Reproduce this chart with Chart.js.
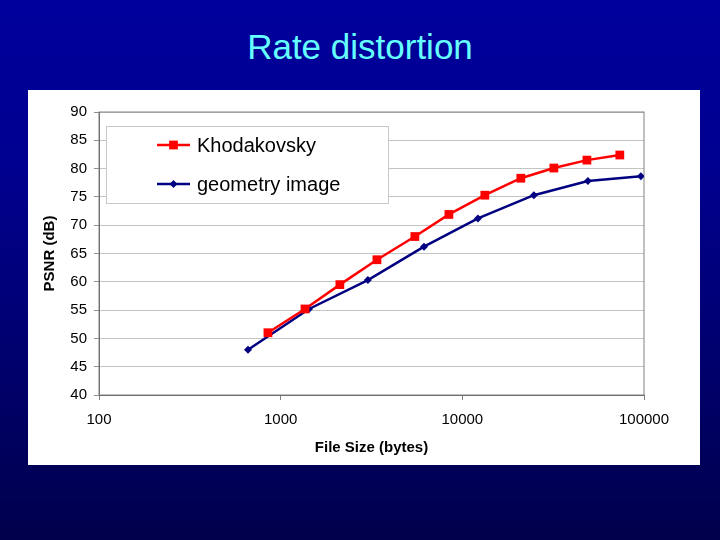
<!DOCTYPE html>
<html lang="en">
<head>
  <meta charset="UTF-8">
  <title>Rate distortion</title>
  <script src="https://cdn.jsdelivr.net/npm/chart.js"></script>
  <style>
    html, body {
      margin: 0;
      width: 720px;
      height: 540px;
      overflow: hidden;
    }

    body {
      position: relative;
      font-family: "Liberation Sans", Arial, sans-serif;
      background: linear-gradient(to bottom, #00009c 0%, #000090 30%, #00006a 70%, #00004c 100%);
    }

    h1 {
      position: absolute;
      top: 25px;
      left: 0;
      width: 720px;
      margin: 0;
      text-align: center;
      font-weight: normal;
      font-size: 35px;
      line-height: 44px;
      color: #66ffff;
    }

    .panel {
      position: absolute;
      left: 28px;
      top: 90px;
      width: 672px;
      height: 375px;
      background: #fff;
    }
  </style>
</head>
<body>

<h1>Rate distortion</h1>

<div class="panel">
  <canvas id="chart"></canvas>
</div>

<script>
  // file sizes (bytes) and PSNR (dB)
  const khodSize = [851, 1361, 2118, 3388, 5480, 8436, 13300, 20990, 31900, 48500, 73600];
  const khodPsnr = [51.0, 55.2, 59.5, 63.9, 68.0, 71.9, 75.3, 78.3, 80.1, 81.5, 82.4];

  const geoSize = [661, 1432, 3020, 6150, 12190, 24760, 49100, 96100];
  const geoPsnr = [48.0, 55.2, 60.3, 66.2, 71.2, 75.3, 77.8, 78.65];

  const xTicks = [100, 1000, 10000, 100000];
  const yTicks = [40, 45, 50, 55, 60, 65, 70, 75, 80, 85, 90];

  const toPoints = (xs, ys) => xs.map((x, i) => ({ x: x, y: ys[i] }));

  // grey frame round the plot area (top and right sides in the original)
  const plotFrame = {
    id: 'plotFrame',
    beforeDatasetsDraw(chart) {
      const { ctx, chartArea: a } = chart;
      ctx.save();
      ctx.strokeStyle = '#808080';
      ctx.lineWidth = 1;
      ctx.strokeRect(a.left, a.top, a.right - a.left, a.bottom - a.top);
      ctx.restore();
    }
  };

  // boxed legend inside the plot, like the Excel one
  const boxLegend = {
    id: 'boxLegend',
    afterDatasetsDraw(chart) {
      const { ctx, chartArea: a } = chart;
      const left = a.left + 7, top = a.top + 14;
      const w = 282, h = 77;
      ctx.save();
      ctx.fillStyle = '#fff';
      ctx.fillRect(left, top, w, h);
      ctx.strokeStyle = '#c8c8c8';
      ctx.lineWidth = 1;
      ctx.strokeRect(left + 0.5, top + 0.5, w, h);

      chart.data.datasets.forEach((ds, i) => {
        const y = top + 19 + i * 39;
        const x0 = left + 51, x1 = left + 84, xm = (x0 + x1) / 2;
        ctx.strokeStyle = ds.borderColor;
        ctx.lineWidth = ds.borderWidth;
        ctx.beginPath();
        ctx.moveTo(x0, y);
        ctx.lineTo(x1, y);
        ctx.stroke();

        ctx.fillStyle = ds.pointBackgroundColor;
        const s = ds.pointRadius * Math.SQRT1_2;
        ctx.beginPath();
        if (ds.pointStyle === 'rectRot') {
          const r = ds.pointRadius;
          ctx.moveTo(xm, y - r);
          ctx.lineTo(xm + r, y);
          ctx.lineTo(xm, y + r);
          ctx.lineTo(xm - r, y);
          ctx.closePath();
        } else {
          ctx.rect(xm - s, y - s, 2 * s, 2 * s);
        }
        ctx.fill();

        ctx.fillStyle = '#000';
        ctx.font = '20px "Liberation Sans", Arial, sans-serif';
        ctx.textBaseline = 'middle';
        ctx.fillText(ds.label, left + 91, y + 1);
      });
      ctx.restore();
    }
  };

  new Chart(document.getElementById('chart'), {
    type: 'line',
    data: {
      datasets: [{
        label: 'Khodakovsky',
        data: toPoints(khodSize, khodPsnr),
        borderColor: '#ff0000',
        backgroundColor: '#ff0000',
        pointBackgroundColor: '#ff0000',
        pointBorderColor: '#ff0000',
        borderWidth: 2.5,
        pointStyle: 'rect',
        pointRadius: 6.2,
        pointBorderWidth: 0,
        tension: 0
      }, {
        label: 'geometry image',
        data: toPoints(geoSize, geoPsnr),
        borderColor: '#000080',
        backgroundColor: '#000080',
        pointBackgroundColor: '#000080',
        pointBorderColor: '#000080',
        borderWidth: 2.5,
        pointStyle: 'rectRot',
        pointRadius: 4,
        pointBorderWidth: 0,
        tension: 0
      }]
    },
    options: {
      responsive: true,
      maintainAspectRatio: false,
      animation: false,
      layout: {
        padding: { left: 0, right: 56, top: 22, bottom: 0 }
      },
      plugins: {
        legend: { display: false },
        tooltip: { enabled: false }
      },
      scales: {
        x: {
          type: 'logarithmic',
          min: 100,
          max: 100000,
          afterBuildTicks: (scale) => {
            scale.ticks = xTicks.map(v => ({ value: v }));
          },
          afterFit: (scale) => { scale.height = 70; },
          grid: {
            drawOnChartArea: false,
            tickLength: 5,
            color: '#808080'
          },
          border: { color: '#606060', width: 1 },
          ticks: {
            color: '#000',
            padding: 11,
            maxRotation: 0,
            autoSkip: false,
            font: { family: '"Liberation Sans", Arial, sans-serif', size: 15 },
            callback: (v) => String(v)
          },
          title: {
            display: true,
            text: 'File Size (bytes)',
            color: '#000',
            padding: { top: 0, bottom: 8 },
            font: { family: '"Liberation Sans", Arial, sans-serif', size: 15, weight: 'bold' }
          }
        },
        y: {
          min: 40,
          max: 90,
          afterBuildTicks: (scale) => {
            scale.ticks = yTicks.map(v => ({ value: v }));
          },
          afterFit: (scale) => { scale.width = 71; },
          grid: {
            color: '#c4c4c4',
            tickColor: '#909090',
            tickLength: 5
          },
          border: { color: '#606060', width: 1 },
          ticks: {
            color: '#000',
            padding: 7,
            font: { family: '"Liberation Sans", Arial, sans-serif', size: 15 }
          },
          title: {
            display: true,
            text: 'PSNR (dB)',
            color: '#000',
            padding: { top: 13, bottom: 0 },
            font: { family: '"Liberation Sans", Arial, sans-serif', size: 15, weight: 'bold' }
          }
        }
      }
    },
    plugins: [plotFrame, boxLegend]
  });
</script>

</body>
</html>
